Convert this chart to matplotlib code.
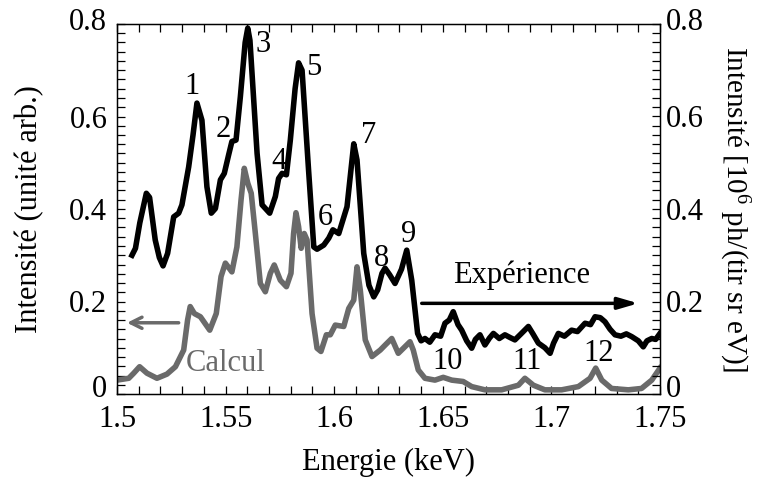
import matplotlib
matplotlib.use("Agg")
import matplotlib.pyplot as plt
import matplotlib.transforms as mtransforms
from matplotlib.ticker import MultipleLocator

plt.rcParams['font.family'] = ['Liberation Serif', 'DejaVu Serif']
plt.rcParams['mathtext.fontset'] = 'custom'
plt.rcParams['mathtext.rm'] = 'Liberation Serif'
plt.rcParams['mathtext.it'] = 'Liberation Serif:italic'

# Experimental spectrum (black)
exp_energy = [1.5069, 1.5085, 1.5105, 1.5135, 1.5150, 1.5176, 1.5195, 1.5212, 1.5233, 1.5261,
              1.5284, 1.5299, 1.5330, 1.5350, 1.5368, 1.5391, 1.5414, 1.5434, 1.5453, 1.5476,
              1.5494, 1.5514, 1.5529, 1.5548, 1.5568, 1.5590, 1.5602, 1.5612, 1.5645, 1.5668,
              1.5703, 1.5729, 1.5744, 1.5760, 1.5780, 1.5798, 1.5820, 1.5836, 1.5852, 1.5882,
              1.5906, 1.5921, 1.5952, 1.5975, 1.5994, 1.6021, 1.6059, 1.6090, 1.6105, 1.6136,
              1.6160, 1.6182, 1.6200, 1.6220, 1.6234, 1.6255, 1.6280, 1.6310, 1.6334, 1.6357,
              1.6384, 1.6400, 1.6418, 1.6440, 1.6464, 1.6490, 1.6510, 1.6530, 1.6548, 1.6570,
              1.6587, 1.6610, 1.6633, 1.6650, 1.6671, 1.6694, 1.6715, 1.6733, 1.6760, 1.6786,
              1.6810, 1.6832, 1.6860, 1.6894, 1.6915, 1.6940, 1.6970, 1.6994, 1.7010, 1.7032,
              1.7060, 1.7093, 1.7120, 1.7155, 1.7180, 1.7201, 1.7225, 1.7247, 1.7270, 1.7293,
              1.7320, 1.7345, 1.7370, 1.7400, 1.7423, 1.7440, 1.7462, 1.7480, 1.7500]
exp_value = [0.300, 0.315, 0.370, 0.434, 0.425, 0.333, 0.295, 0.277, 0.304, 0.383,
             0.391, 0.409, 0.491, 0.560, 0.629, 0.592, 0.448, 0.391, 0.401, 0.463,
             0.477, 0.517, 0.546, 0.549, 0.643, 0.760, 0.791, 0.765, 0.520, 0.409,
             0.391, 0.427, 0.466, 0.477, 0.474, 0.549, 0.660, 0.716, 0.700, 0.484,
             0.318, 0.313, 0.322, 0.337, 0.355, 0.347, 0.405, 0.541, 0.506, 0.304,
             0.235, 0.210, 0.225, 0.261, 0.272, 0.258, 0.239, 0.270, 0.311, 0.246,
             0.131, 0.115, 0.120, 0.112, 0.128, 0.125, 0.153, 0.160, 0.178, 0.150,
             0.138, 0.115, 0.099, 0.118, 0.128, 0.106, 0.121, 0.131, 0.120, 0.128,
             0.122, 0.117, 0.130, 0.146, 0.130, 0.110, 0.100, 0.088, 0.110, 0.131,
             0.125, 0.138, 0.135, 0.153, 0.150, 0.167, 0.165, 0.156, 0.140, 0.128,
             0.125, 0.130, 0.124, 0.115, 0.102, 0.115, 0.120, 0.118, 0.131]

# Calculated spectrum (grey)
calc_energy = [1.5000, 1.5054, 1.5077, 1.5104, 1.5138, 1.5184, 1.5230, 1.5269, 1.5307, 1.5325,
               1.5337, 1.5356, 1.5384, 1.5427, 1.5457, 1.5479, 1.5499, 1.5529, 1.5552, 1.5571,
               1.5586, 1.5602, 1.5618, 1.5637, 1.5660, 1.5683, 1.5706, 1.5724, 1.5752, 1.5780,
               1.5801, 1.5813, 1.5824, 1.5836, 1.5848, 1.5862, 1.5875, 1.5898, 1.5921, 1.5939,
               1.5964, 1.5982, 1.6005, 1.6044, 1.6067, 1.6090, 1.6105, 1.6120, 1.6143, 1.6174,
               1.6212, 1.6235, 1.6265, 1.6295, 1.6349, 1.6364, 1.6387, 1.6418, 1.6464, 1.6502,
               1.6541, 1.6594, 1.6633, 1.6694, 1.6771, 1.6848, 1.6878, 1.6917, 1.6970, 1.7047,
               1.7124, 1.7178, 1.7204, 1.7232, 1.7277, 1.7354, 1.7415, 1.7462, 1.7500]
calc_value = [0.030, 0.034, 0.045, 0.059, 0.045, 0.034, 0.043, 0.059, 0.095, 0.160,
              0.189, 0.174, 0.167, 0.138, 0.174, 0.254, 0.283, 0.264, 0.318, 0.419,
              0.488, 0.456, 0.434, 0.347, 0.239, 0.221, 0.261, 0.279, 0.246, 0.232,
              0.261, 0.347, 0.392, 0.362, 0.315, 0.347, 0.333, 0.174, 0.099, 0.092,
              0.128, 0.128, 0.149, 0.146, 0.185, 0.203, 0.275, 0.225, 0.117, 0.081,
              0.095, 0.106, 0.120, 0.088, 0.113, 0.095, 0.052, 0.034, 0.030, 0.036,
              0.030, 0.027, 0.016, 0.009, 0.009, 0.019, 0.034, 0.019, 0.009, 0.009,
              0.016, 0.034, 0.056, 0.030, 0.012, 0.009, 0.012, 0.030, 0.056]

# Peak labels
peak_labels = ['1', '2', '3', '4', '5', '6', '7', '8', '9', '10', '11', '12']
peak_x = [1.5346, 1.5488, 1.5671, 1.5744, 1.5906, 1.5959, 1.6159, 1.6220, 1.6341, 1.6522, 1.6886, 1.7216]
peak_y = [0.665, 0.572, 0.755, 0.502, 0.706, 0.382, 0.558, 0.293, 0.344, 0.070, 0.070, 0.088]

x_ticks = [1.5, 1.55, 1.6, 1.65, 1.7, 1.75]
x_tick_labels = ['1.5', '1.55', '1.6', '1.65', '1.7', '1.75']
y_ticks = [0, 0.2, 0.4, 0.6, 0.8]
y_tick_labels = ['0', '0.2', '0.4', '0.6', '0.8']

GREY = '#6a6a6a'
FS_TICK = 22
FS_LAB = 22
FS_TXT = 22

fig = plt.figure(figsize=(7.61, 4.82), dpi=100)
ax = fig.add_axes([117/761, 1-394/482, (660-117)/761, (394-24)/482])

ax.plot(calc_energy, calc_value, color=GREY, lw=4.0, solid_joinstyle='round', zorder=2)
ax.plot(exp_energy, exp_value, color='black', lw=4.0, solid_joinstyle='round', zorder=3)

ax.set_xlim(1.5, 1.75)
ax.set_ylim(0, 0.8)
ax.set_xticks(x_ticks)
ax.set_xticklabels(x_tick_labels)
ax.set_yticks(y_ticks)
ax.set_yticklabels(y_tick_labels)
ax.xaxis.set_minor_locator(MultipleLocator(0.01))
ax.yaxis.set_minor_locator(MultipleLocator(0.02))
ax.tick_params(axis='both', which='both', direction='in', top=True, right=True,
               length=5.5, width=0.9, labelsize=FS_TICK)
ax.tick_params(axis='x', which='major', pad=8)
ax.tick_params(axis='y', which='major', pad=7)
for s in ax.spines.values():
    s.set_linewidth(1.0)

ax.set_xlabel('Energie (keV)', fontsize=FS_LAB, labelpad=10)
ax.set_ylabel('Intensité (unité arb.)', fontsize=FS_LAB, labelpad=18)

ax2 = ax.twinx()
ax2.set_ylim(0, 0.8)
ax2.set_yticks(y_ticks)
ax2.set_yticklabels(y_tick_labels)
ax2.yaxis.set_minor_locator(MultipleLocator(0.02))
ax2.tick_params(axis='y', which='both', direction='in', length=5.5, width=0.9,
                labelsize=FS_TICK, pad=4)
ax2.set_ylabel(r'Intensité [10$^{6}$ ph/(tir sr eV)]', fontsize=21, rotation=270,
               va='bottom', labelpad=10)

# end labels sit slightly inside the axis range in the reference
shift_up0 = mtransforms.ScaledTranslation(0, 8/100, fig.dpi_scale_trans)
shift_up8 = mtransforms.ScaledTranslation(0, 5/100, fig.dpi_scale_trans)
for a in (ax, ax2):
    labs = a.get_yticklabels()
    labs[0].set_transform(labs[0].get_transform() + shift_up0)
    labs[-1].set_transform(labs[-1].get_transform() + shift_up8)

for lab, x, y in zip(peak_labels, peak_x, peak_y):
    ax.text(x, y, lab, fontsize=FS_TXT, ha='center', va='center', zorder=5)

ax.text(1.6863, 0.257, 'Expérience', fontsize=FS_TXT, ha='center', va='center')
ax.annotate('', xy=(1.7400, 0.196), xytext=(1.6403, 0.196),
            arrowprops=dict(arrowstyle='-|>,head_length=1.2,head_width=0.35',
                            color='black', lw=2.5, shrinkA=0, shrinkB=0))
ax.text(1.5500, 0.066, 'Calcul', fontsize=FS_TXT, ha='center', va='center', color=GREY)
ax.annotate('', xy=(1.5046, 0.154), xytext=(1.5284, 0.154),
            arrowprops=dict(arrowstyle='->,head_length=0.8,head_width=0.4',
                            color=GREY, lw=2.5, shrinkA=0, shrinkB=0))

fig.savefig('out.png', dpi=100)
